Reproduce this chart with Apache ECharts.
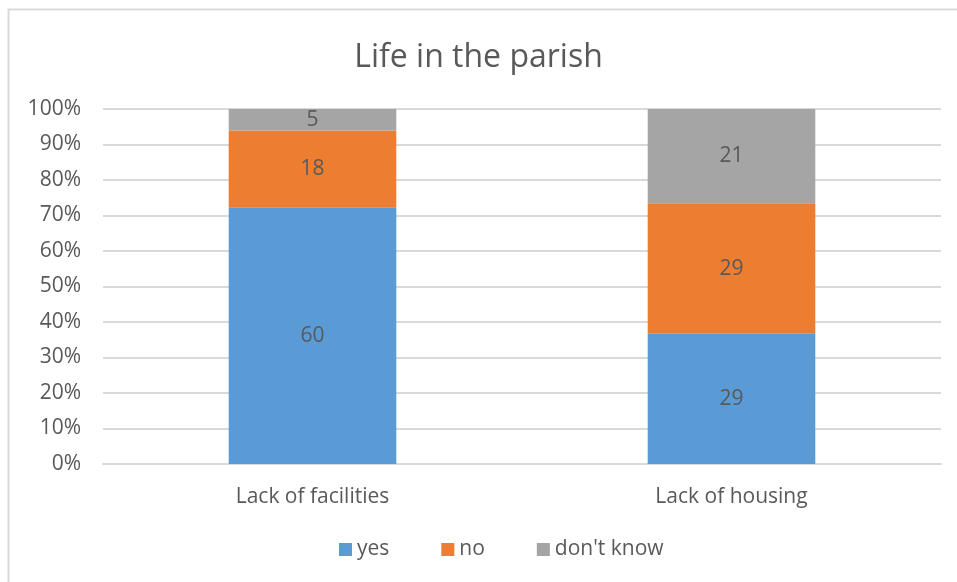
<!DOCTYPE html>
<html>
<head>
<meta charset="utf-8">
<script src="https://cdn.jsdelivr.net/npm/echarts@6/dist/echarts.min.js"></script>
<style>
html,body{margin:0;padding:0;background:#fff;}
#main{width:957px;height:582px;}
</style>
</head>
<body>
<div id="main"></div>
<script>
// categories and raw counts
var categories = ["Lack of facilities", "Lack of housing"];
var yesVals = [60, 29];
var noVals = [18, 29];
var dkVals = [5, 21];
var yTicks = ["0%", "10%", "20%", "30%", "40%", "50%", "60%", "70%", "80%", "90%", "100%"];

var totals = categories.map(function(c, i){ return yesVals[i] + noVals[i] + dkVals[i]; });
function pct(arr){
	return arr.map(function(v, i){ return { value: v / totals[i] * 100, raw: v }; });
}

var txt = "#595959";
var font = "Open Sans";

var myChart = echarts.init(document.getElementById('main'));

function series(name, arr, color){
	return {
		name: name,
		type: 'bar',
		stack: 'all',
		barWidth: '40%',
		data: pct(arr),
		itemStyle: { color: color },
		label: {
			show: true,
			position: 'inside',
			color: txt,
			fontFamily: font,
			fontSize: 21,
			formatter: function(p){ return p.data.raw; }
		}
	};
}

var option = {
	animation: false,
	title: {
		text: 'Life in the parish',
		left: 'center',
		top: 37,
		textStyle: { color: txt, fontFamily: font, fontSize: 32, fontWeight: 'normal' }
	},
	legend: {
		bottom: 17,
		left: 334,
		itemWidth: 13,
		itemHeight: 13,
		itemGap: 52,
		icon: 'rect',
		textStyle: { color: txt, fontFamily: font, fontSize: 21 },
		data: ['yes', 'no', "don't know"]
	},
	grid: { left: 103, right: 16, top: 109, bottom: 118 },
	xAxis: {
		type: 'category',
		data: categories,
		axisLine: { lineStyle: { color: '#d9d9d9', width: 2 } },
		axisTick: { show: false },
		axisLabel: { color: txt, fontFamily: font, fontSize: 21, margin: 23 }
	},
	yAxis: {
		type: 'value',
		min: 0,
		max: 100,
		interval: 10,
		axisLine: { show: false },
		axisTick: { show: false },
		splitLine: { lineStyle: { color: '#d9d9d9', width: 2 } },
		axisLabel: {
			color: txt, fontFamily: font, fontSize: 21, margin: 22,
			formatter: function(v){ return yTicks[Math.round(v / 10)]; }
		}
	},
	graphic: [{
		type: 'rect',
		shape: { x: 8.5, y: 9.5, width: 1000, height: 1000 },
		style: { fill: 'none', stroke: '#d9d9d9', lineWidth: 2 },
		silent: true
	}],
	series: [
		series('yes', yesVals, '#5B9BD5'),
		series('no', noVals, '#ED7D31'),
		series("don't know", dkVals, '#A5A5A5')
	]
};

myChart.setOption(option);
</script>
</body>
</html>
